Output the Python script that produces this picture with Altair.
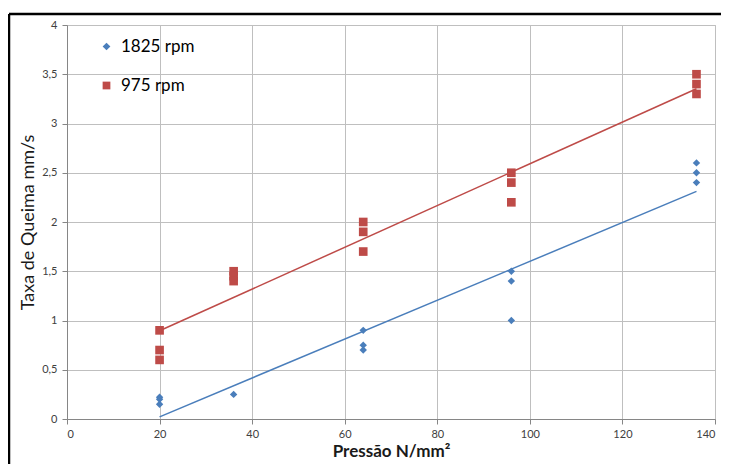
import altair as alt
import pandas as pd

# Data
x_1825 = [20, 20, 20, 36, 64, 64, 64, 96, 96, 96, 136, 136, 136]
y_1825 = [0.22, 0.20, 0.15, 0.25, 0.90, 0.75, 0.70, 1.50, 1.40, 1.00, 2.60, 2.50, 2.40]
x_975 = [20, 20, 20, 36, 36, 36, 64, 64, 64, 96, 96, 96, 136, 136, 136]
y_975 = [0.90, 0.70, 0.60, 1.50, 1.45, 1.40, 2.00, 1.90, 1.70, 2.50, 2.40, 2.20, 3.50, 3.40, 3.30]
series_names = ["1825 rpm", "975 rpm"]
x_ticks = [0, 20, 40, 60, 80, 100, 120, 140]
y_ticks = [0, 0.5, 1, 1.5, 2, 2.5, 3, 3.5, 4]

BLUE = "#4A7EBB"
RED = "#BE4B48"
FONT = "Lato"

df = pd.DataFrame({
    "x": x_1825 + x_975,
    "y": y_1825 + y_975,
    "series": [series_names[0]] * len(x_1825) + [series_names[1]] * len(x_975),
})

xscale = alt.Scale(domain=[0, 140], nice=False, zero=False)
yscale = alt.Scale(domain=[0, 4], nice=False)

xaxis = alt.Axis(values=x_ticks, title="Pressão N/mm²", titleFontWeight="bold",
                 titleFontSize=17, titlePadding=4, labelPadding=4)
yaxis = alt.Axis(values=y_ticks, title="Taxa de Queima mm/s", titleFontWeight="normal",
                 titleFontSize=18, titlePadding=4, labelPadding=5,
                 labelExpr="replace(toString(datum.value), '.', ',')")

legend_kw = dict(title=None, orient="none", legendX=31, legendY=13,
                 labelFontSize=17, labelFont=FONT, labelColor="#000000",
                 rowPadding=21, symbolSize=60, padding=0, labelOffset=6)

base = alt.Chart(df)

points = base.mark_point(filled=True, opacity=1).encode(
    x=alt.X("x:Q", scale=xscale, axis=xaxis),
    y=alt.Y("y:Q", scale=yscale, axis=yaxis),
    color=alt.Color("series:N", scale=alt.Scale(domain=series_names, range=[BLUE, RED]),
                    legend=alt.Legend(**legend_kw)),
    shape=alt.Shape("series:N", scale=alt.Scale(domain=series_names, range=["diamond", "square"]),
                    legend=alt.Legend(**legend_kw)),
    size=alt.condition(alt.datum.series == series_names[0], alt.value(55), alt.value(75)),
)

def trend(name, colour):
    return base.transform_filter(alt.datum.series == name).transform_regression(
        "x", "y"
    ).mark_line(strokeWidth=1.5, color=colour).encode(
        x=alt.X("x:Q", scale=xscale),
        y=alt.Y("y:Q", scale=yscale),
    )

frame_df = pd.DataFrame({"a": [0]})
frame_v = alt.Chart(frame_df).mark_rule(color="#000000", strokeWidth=2.5).encode(
    x=alt.value(-58), y=alt.value(-11), y2=alt.value(470))
frame_h = alt.Chart(frame_df).mark_rule(color="#000000", strokeWidth=2.5).encode(
    x=alt.value(-58), x2=alt.value(720), y=alt.value(-11))

chart = alt.layer(
    trend(series_names[0], BLUE), trend(series_names[1], RED), points, frame_v, frame_h
).properties(
    width=648, height=394,
    autosize=alt.AutoSizeParams(type="none"),
    padding={"left": 59, "top": 17, "right": 6, "bottom": 45},
    background="white",
).configure_view(
    stroke="#BFBFBF", strokeWidth=1
).configure_axis(
    grid=True, gridColor="#BFBFBF", gridWidth=1,
    domainColor="#868686", tickColor="#868686", tickSize=5,
    labelFont=FONT, labelFontSize=11, labelColor="#404040",
    titleFont=FONT, titleColor="#1a1a1a",
)

chart.save("out.html", embed_options={"renderer": "svg", "actions": False})
